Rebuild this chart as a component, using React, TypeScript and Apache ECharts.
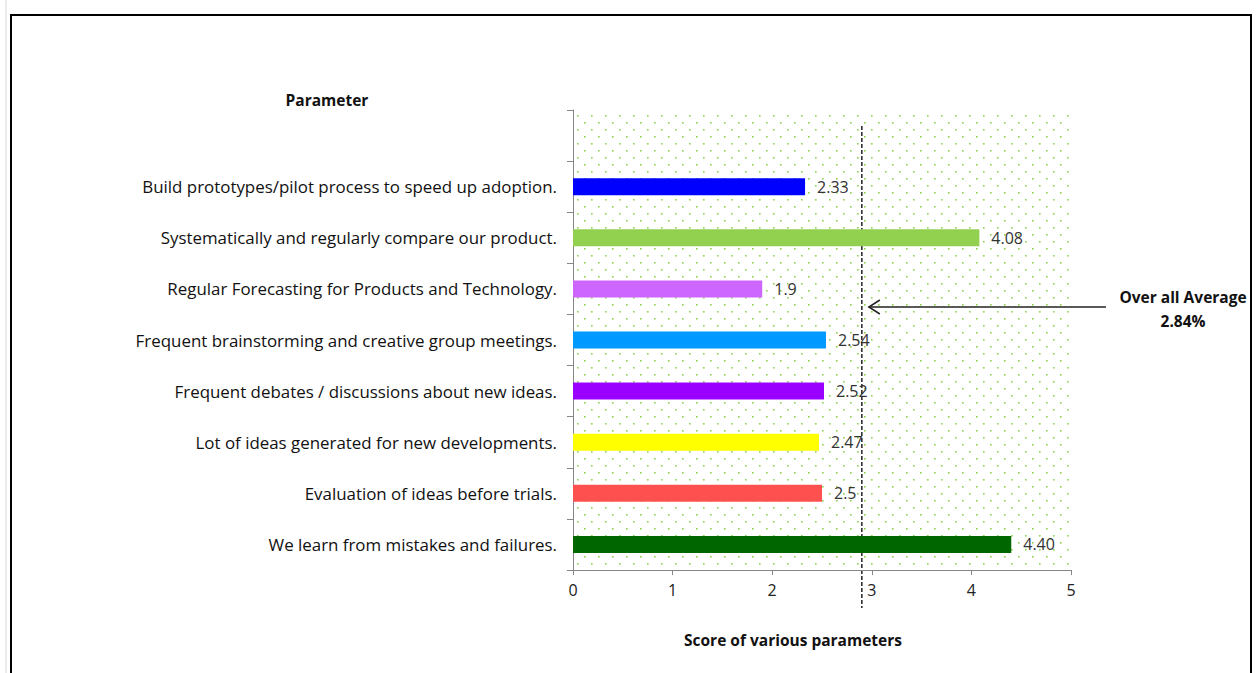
import React, { useEffect, useRef } from "react";
import * as echarts from "echarts";

// Categories listed bottom-to-top (top slot is an empty category)
const categories: string[] = [
  "We learn from mistakes and failures.",
  "Evaluation of ideas before trials.",
  "Lot of ideas generated for new developments.",
  "Frequent debates / discussions about new ideas.",
  "Frequent brainstorming and creative group meetings.",
  "Regular Forecasting for Products and Technology.",
  "Systematically and regularly compare our product.",
  "Build prototypes/pilot process to speed up adoption.",
  "",
];
const scores: (number | null)[] = [4.4, 2.5, 2.47, 2.52, 2.54, 1.9, 4.08, 2.33, null];
const scoreLabels: string[] = ["4.40", "2.5", "2.47", "2.52", "2.54", "1.9", "4.08", "2.33", ""];
const barColors: string[] = [
  "#006600",
  "#ff5050",
  "#ffff00",
  "#9900ff",
  "#0099ff",
  "#cc66ff",
  "#92d050",
  "#0000ff",
  "#ffffff",
];
const xTicks: number[] = [0, 1, 2, 3, 4, 5];
const averageLinePos = 2.9;
const averageText = ["Over all Average", "2.84%"];

const FONT = "'Open Sans', 'Noto Sans', sans-serif";

const dotSvg =
  "data:image/svg+xml;utf8," +
  encodeURIComponent(
    "<svg xmlns='http://www.w3.org/2000/svg' width='14' height='14'>" +
      "<rect x='3' y='3' width='1.6' height='1.6' fill='#92d050'/>" +
      "<rect x='10' y='10' width='1.6' height='1.6' fill='#92d050'/>" +
      "</svg>"
  );

export default function App() {
  const ref = useRef<HTMLDivElement>(null);
  useEffect(() => {
    if (!ref.current) return;
    const chart = echarts.init(ref.current, undefined, { renderer: "svg" });
    const option: any = {
      animation: false,
      backgroundColor: "#ffffff",
      grid: {
        left: 573,
        right: 186,
        top: 110,
        bottom: 103,
        show: true,
        borderWidth: 0,
        backgroundColor: {
          image: dotSvg,
          repeat: "repeat",
          imageWidth: 14,
          imageHeight: 14,
        },
      },
      xAxis: {
        type: "value",
        min: 0,
        max: 5,
        interval: 1,
        splitLine: { show: false },
        axisLine: { show: true, lineStyle: { color: "#868686", width: 1 } },
        axisTick: { show: true, length: 5, lineStyle: { color: "#868686" } },
        axisLabel: {
          color: "#222",
          fontFamily: FONT,
          fontSize: 16,
          margin: 12,
          formatter: (v: number) => String(v),
        },
        data: xTicks,
      },
      yAxis: {
        type: "category",
        data: categories,
        axisLine: { show: true, lineStyle: { color: "#868686", width: 1 } },
        axisTick: { show: true, length: 6, alignWithLabel: false, lineStyle: { color: "#868686" } },
        axisLabel: {
          color: "#111",
          fontFamily: FONT,
          fontSize: 16.9,
          margin: 16,
        },
        splitLine: { show: false },
      },
      series: [
        {
          type: "bar",
          barWidth: 17,
          data: scores.map((v, i) => ({
            value: v,
            itemStyle: { color: barColors[i] },
          })),
          label: {
            show: true,
            position: "right",
            distance: 12,
            color: "#333",
            fontFamily: FONT,
            fontSize: 16,
            formatter: (p: any) => scoreLabels[p.dataIndex],
          },
        },
      ],
    };
    chart.setOption(option);

    const xAvg = chart.convertToPixel({ xAxisIndex: 0 }, averageLinePos) as number;
    const boldText = (x: number, y: number, text: string) => ({
      type: "text",
      x,
      y,
      style: {
        text,
        fontFamily: FONT,
        fontSize: 15.5,
        fontWeight: "bold",
        fill: "#111",
        align: "center",
        verticalAlign: "middle",
      },
      silent: true,
    });
    chart.setOption({
      graphic: [
        {
          type: "rect",
          shape: { x: 11, y: 15, width: 1240, height: 700 },
          style: { fill: "none", stroke: "#000", lineWidth: 2 },
          silent: true,
        },
        {
          type: "line",
          shape: { x1: 6, y1: 0, x2: 6, y2: 673 },
          style: { stroke: "#d8d8d8", lineWidth: 1 },
          silent: true,
        },
        {
          type: "line",
          shape: { x1: xAvg, y1: 126, x2: xAvg, y2: 608 },
          style: { stroke: "#222", lineWidth: 1.5, lineDash: [4, 2] },
          silent: true,
        },
        {
          type: "line",
          shape: { x1: 1106, y1: 307, x2: xAvg + 7, y2: 307 },
          style: { stroke: "#222", lineWidth: 1.5 },
          silent: true,
        },
        {
          type: "polyline",
          shape: {
            points: [
              [xAvg + 18, 300],
              [xAvg + 7, 307],
              [xAvg + 18, 314],
            ],
          },
          style: { stroke: "#222", lineWidth: 1.5, fill: "none" },
          silent: true,
        },
        boldText(1183, 297, averageText[0]),
        boldText(1183, 321, averageText[1]),
        boldText(327, 100, "Parameter"),
        boldText(793, 640, "Score of various parameters"),
      ],
    });
    return () => chart.dispose();
  }, []);
  return (
    <div
      ref={ref}
      style={{ position: "absolute", left: 0, top: 0, width: 1257, height: 673 }}
    />
  );
}
